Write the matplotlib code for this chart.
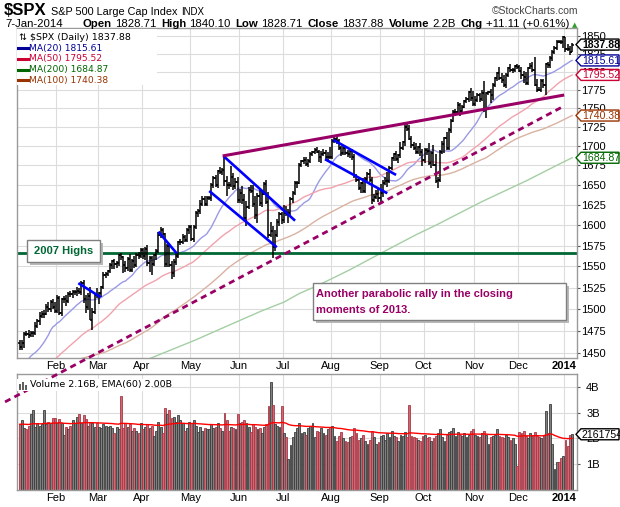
import numpy as np
import pandas as pd
import matplotlib
matplotlib.use("Agg")
import matplotlib.pyplot as plt
from matplotlib.patches import Polygon, Rectangle
from matplotlib.lines import Line2D
from matplotlib.collections import LineCollection
from matplotlib.ticker import FixedLocator, NullLocator
from matplotlib.transforms import IdentityTransform

plt.rcParams["font.family"] = ["Liberation Sans", "DejaVu Sans"]

# trading days per month, 8-Jan-2013 .. 7-Jan-2014
month_days = [17, 19, 20, 22, 22, 20, 22, 22, 20, 23, 20, 21, 4]
month_names = ["Feb", "Mar", "Apr", "May", "Jun", "Jul", "Aug", "Sep", "Oct", "Nov", "Dec", "2014"]

# closes before the window (Sep 2012 .. 7-Jan-2013), only used for the moving averages
close_prior = [
    1404.94, 1403.44, 1432.12, 1437.92, 1429.08, 1433.56, 1436.56, 1459.99, 1465.77, 1461.19,
    1459.32, 1461.05, 1460.26, 1460.15, 1456.89, 1441.59, 1433.32, 1447.15, 1440.67,
    1444.49, 1445.75, 1450.99, 1461.40, 1460.93, 1455.88, 1441.48, 1432.56, 1432.84, 1428.59,
    1440.13, 1454.92, 1460.91, 1457.34, 1433.19, 1433.81, 1413.11, 1408.75, 1412.97, 1411.94, 1412.16,
    1427.59, 1414.20, 1417.26, 1428.39, 1394.53, 1377.51, 1379.85, 1380.03, 1374.53, 1355.49,
    1353.33, 1359.88, 1386.89, 1387.81, 1391.03, 1409.15, 1406.29, 1398.94, 1409.93, 1415.95, 1416.18,
    1409.46, 1407.05, 1409.28, 1413.94, 1418.07, 1418.55, 1427.84, 1428.48, 1419.45, 1413.58,
    1430.36, 1446.79, 1435.81, 1443.69, 1430.15, 1426.66, 1419.83, 1418.10, 1402.43, 1426.19,
    1462.42, 1459.37, 1466.47, 1461.89,
]

close = [
    # Jan
    1457.15, 1461.02, 1472.12, 1472.05, 1470.68, 1472.34, 1472.63, 1480.94, 1485.98, 1492.56,
    1494.81, 1494.82, 1502.96, 1500.18, 1507.84, 1501.96, 1498.11,
    # Feb
    1513.17, 1495.71, 1511.29, 1512.12, 1509.39, 1517.93, 1517.01, 1519.43, 1520.33, 1521.38,
    1519.79, 1530.94, 1511.95, 1502.42, 1515.60, 1487.85, 1496.94, 1515.99, 1514.68,
    # Mar
    1518.20, 1525.20, 1539.79, 1541.46, 1544.26, 1551.18, 1556.22, 1552.48, 1554.52, 1563.23,
    1560.70, 1552.10, 1548.34, 1558.71, 1545.80, 1556.89, 1551.69, 1563.77, 1562.85, 1569.19,
    # Apr
    1562.17, 1570.25, 1553.69, 1559.98, 1553.28, 1563.07, 1568.61, 1587.73, 1593.37, 1588.85,
    1552.36, 1574.57, 1552.01, 1541.61, 1555.25, 1562.50, 1578.78, 1578.79, 1585.16, 1582.24,
    1593.61, 1597.57,
    # May
    1582.70, 1597.59, 1614.42, 1617.50, 1625.96, 1632.69, 1626.67, 1633.70, 1633.77, 1650.34,
    1658.78, 1650.47, 1667.47, 1666.29, 1669.16, 1655.35, 1650.51, 1649.60, 1660.06, 1648.36,
    1654.41, 1630.74,
    # Jun
    1640.42, 1631.38, 1608.90, 1622.56, 1643.38, 1642.81, 1626.13, 1612.52, 1636.36, 1626.73,
    1639.04, 1651.81, 1628.93, 1588.19, 1592.43, 1573.09, 1588.03, 1603.26, 1613.20, 1606.28,
    # Jul
    1614.96, 1614.08, 1615.41, 1631.89, 1640.46, 1652.32, 1652.62, 1675.02, 1680.19, 1682.50,
    1676.26, 1680.91, 1689.37, 1692.09, 1695.53, 1692.39, 1685.94, 1690.25, 1691.65, 1685.33,
    1685.96, 1685.73,
    # Aug
    1706.87, 1709.67, 1707.14, 1697.37, 1690.91, 1697.48, 1691.42, 1689.47, 1694.16, 1685.39,
    1661.32, 1655.83, 1646.06, 1652.35, 1642.80, 1656.96, 1663.50, 1656.78, 1630.48, 1634.96,
    1638.17, 1632.97,
    # Sep
    1639.77, 1653.08, 1655.08, 1655.17, 1671.71, 1683.99, 1689.13, 1683.42, 1687.99, 1697.60,
    1704.76, 1725.52, 1722.34, 1709.91, 1701.84, 1697.42, 1692.77, 1698.67, 1691.75, 1681.55,
    # Oct
    1695.00, 1693.87, 1678.66, 1690.50, 1676.12, 1655.45, 1656.40, 1692.56, 1703.20, 1710.14,
    1698.06, 1721.54, 1733.15, 1744.50, 1744.66, 1754.67, 1746.38, 1752.07, 1759.77, 1762.11,
    1771.95, 1763.31, 1756.54,
    # Nov
    1761.64, 1767.93, 1762.97, 1770.49, 1747.15, 1770.61, 1771.89, 1767.69, 1782.00, 1790.62,
    1798.18, 1791.53, 1787.87, 1781.37, 1795.85, 1804.76, 1802.48, 1802.75, 1807.23, 1805.81,
    # Dec
    1800.90, 1795.15, 1792.81, 1785.03, 1805.09, 1808.37, 1802.62, 1782.22, 1775.50, 1775.32,
    1786.54, 1781.00, 1810.65, 1809.60, 1818.32, 1827.99, 1833.32, 1842.02, 1841.40, 1841.07,
    1848.36,
    # Jan 2014
    1831.98, 1831.37, 1826.77, 1837.88,
]

# intraday extension above / below the bar body (points, estimated)
hi_ext = [
    3, 4, 2, 3, 4, 3, 2, 4, 3, 4, 3, 4, 3, 5, 3, 4, 6,
    3, 2, 2, 3, 4, 2, 3, 3, 2, 4, 3, 2, 3, 4, 3, 10, 4, 2, 9,
    2, 2, 3, 2, 2, 3, 2, 3, 2, 2, 3, 2, 4, 2, 6, 2, 5, 2, 3, 3,
    3, 3, 6, 2, 2, 2, 2, 4, 4, 3, 2, 2, 4, 4, 3, 3, 2, 4, 4, 3, 3, 3,
    3, 3, 3, 2, 5, 3, 4, 2, 2, 2, 2, 4, 2, 6, 3, 18, 6, 3, 14, 5, 4, 6,
    5, 8, 7, 7, 4, 6, 7, 10, 4, 10, 4, 2, 4, 12, 11, 7, 6, 4, 3, 3,
    10, 8, 5, 3, 2, 3, 3, 3, 2, 3, 3, 2, 3, 2, 2, 3, 3, 4, 4, 3, 7, 13,
    3, 2, 2, 2, 3, 4, 3, 3, 2, 2, 4, 3, 4, 2, 7, 3, 3, 7, 3, 4, 6, 8,
    11, 3, 5, 11, 2, 2, 2, 5, 2, 8, 2, 4, 4, 6, 3, 4, 6, 2, 5, 4,
    2, 3, 10, 3, 11, 14, 4, 3, 3, 2, 8, 2, 3, 3, 5, 4, 3, 3, 2, 3, 2, 6, 10,
    5, 3, 3, 4, 16, 2, 2, 4, 2, 2, 2, 8, 6, 8, 2, 2, 6, 3, 2, 3,
    4, 5, 6, 7, 2, 3, 5, 18, 7, 4, 3, 4, 2, 3, 3, 2, 2, 2, 2, 3, 1,
    0, 6, 5, 2,
]
lo_ext = [
    4, 3, 5, 3, 4, 3, 4, 2, 3, 4, 3, 5, 2, 3, 4, 2, 3,
    3, 2, 4, 4, 6, 2, 3, 4, 3, 5, 2, 3, 5, 7, 3, 0, 12, 3, 2,
    9, 4, 2, 3, 3, 2, 4, 6, 4, 4, 3, 10, 5, 4, 2, 3, 4, 2, 4, 3,
    3, 4, 3, 10, 14, 3, 5, 2, 3, 5, 3, 3, 3, 6, 4, 4, 3, 3, 2, 3, 3, 4,
    2, 4, 3, 4, 4, 3, 3, 3, 3, 4, 4, 3, 4, 2, 3, 7, 15, 5, 2, 5, 3, 4,
    4, 5, 4, 10, 3, 3, 4, 5, 10, 3, 4, 2, 3, 4, 3, 13, 5, 3, 4, 5,
    4, 3, 11, 3, 4, 3, 6, 2, 2, 3, 2, 3, 3, 2, 3, 2, 6, 8, 3, 3, 3, 2,
    2, 3, 4, 3, 4, 2, 3, 4, 5, 4, 3, 2, 3, 6, 3, 3, 2, 3, 4, 2, 3, 5,
    5, 5, 3, 8, 3, 3, 3, 3, 5, 3, 3, 4, 3, 2, 4, 3, 3, 3, 5, 7,
    4, 5, 3, 7, 2, 3, 9, 3, 3, 12, 3, 3, 4, 2, 5, 3, 7, 3, 2, 3, 3, 3, 4,
    3, 3, 4, 3, 2, 10, 3, 10, 6, 3, 3, 3, 3, 2, 4, 3, 3, 4, 3, 2,
    2, 5, 8, 4, 3, 2, 3, 2, 4, 2, 3, 3, 13, 4, 4, 3, 3, 3, 2, 3, 8,
    4, 2, 3, 0,
]

# daily volume, billions
volume = [
    2.55, 2.70, 2.40, 2.35, 2.50, 2.95, 3.10, 2.45, 2.60, 2.50, 2.55, 3.10, 2.55, 2.65, 2.60, 2.80, 2.80,
    2.60, 2.75, 2.60, 2.15, 2.45, 2.35, 2.50, 2.70, 2.60, 2.85, 2.95, 2.60, 2.90, 2.75, 2.50, 2.65, 2.60, 2.45, 2.60,
    2.45, 2.40, 2.55, 2.50, 2.45, 2.50, 2.40, 2.20, 2.45, 2.35, 3.65, 2.40, 2.60, 2.45, 2.55, 2.30, 2.40, 2.30, 2.20, 2.60,
    2.35, 2.45, 2.55, 2.40, 2.50, 2.10, 2.30, 2.65, 2.45, 2.20, 3.20, 2.95, 3.10, 2.80, 2.85, 2.65, 2.90, 2.70, 2.60, 2.30, 2.40, 2.65,
    2.60, 2.70, 2.50, 2.25, 2.45, 2.30, 2.40, 2.35, 2.35, 2.55, 2.40, 2.45, 2.60, 2.40, 2.30, 3.00, 2.70, 2.30, 2.45, 2.40, 2.35, 2.95,
    2.60, 2.65, 2.70, 2.60, 2.45, 2.25, 2.55, 2.45, 2.35, 2.40, 2.20, 2.45, 2.55, 3.25, 4.20, 3.30, 2.55, 2.50, 2.45, 3.25,
    2.20, 2.05, 1.20, 1.75, 2.05, 2.25, 2.40, 2.60, 2.20, 2.25, 2.15, 2.40, 2.50, 2.60, 2.05, 2.30, 2.25, 2.40, 2.20, 2.15, 2.35, 2.45,
    2.50, 2.10, 1.90, 2.10, 2.25, 2.00, 1.90, 1.85, 2.05, 2.10, 2.40, 2.20, 1.95, 2.00, 2.15, 1.90, 1.80, 1.95, 2.30, 2.05, 1.80, 1.85,
    2.10, 2.15, 1.95, 2.20, 2.05, 2.30, 2.10, 2.05, 1.90, 2.15, 2.10, 2.25, 2.05, 3.30, 2.10, 2.05, 2.00, 1.95, 1.90, 2.10,
    2.15, 2.00, 2.05, 1.90, 2.00, 2.10, 2.20, 2.35, 2.05, 1.90, 2.15, 2.25, 2.30, 2.40, 2.10, 2.25, 2.15, 2.10, 2.20, 2.05, 2.15, 2.30, 2.35,
    2.15, 2.10, 2.05, 2.20, 2.30, 2.15, 1.80, 2.05, 2.10, 2.15, 2.35, 2.10, 2.05, 2.00, 2.15, 2.05, 1.95, 2.00, 1.80, 0.95,
    2.25, 2.20, 2.30, 2.10, 2.00, 2.20, 2.15, 2.25, 2.10, 2.05, 2.00, 2.15, 3.05, 2.20, 3.35, 1.80, 0.80, 1.10, 1.10, 1.25, 1.30,
    1.95, 1.70, 2.15, 2.161754,
]

# 200-day MA (trading-day index, value)
ma200_idx = [55, 62, 70, 80, 90, 100, 110, 120, 127, 135, 143, 150, 160, 170, 180, 190, 200, 210, 220, 230, 237, 244, 251]
ma200_val = [1440, 1447, 1455, 1465, 1476, 1487, 1498, 1508, 1518, 1527, 1537, 1546, 1560, 1574, 1588, 1601,
             1615, 1629, 1642, 1655, 1665, 1675, 1684.87]

# annotation lines: (index, price) endpoints
flag_lines = [
    [(26.6, 1530.2), (36.8, 1513.7)],
    [(63.0, 1591.9), (71.3, 1565.6)],
    [(92.5, 1687.2), (125.1, 1605.4)],
    [(86.1, 1642.4), (116.8, 1572.9)],
    [(142.5, 1708.1), (171.0, 1662.8)],
    [(138.7, 1683.0), (167.0, 1639.5)],
]
upper_trend = [(92.2, 1687.2), (247.4, 1768.0)]
lower_trend = [(-6.7, 1396.8), (246.8, 1752.3)]
high_2007 = 1566

legend_vals = {"MA(20)": 1815.61, "MA(50)": 1795.52, "MA(200)": 1684.87, "MA(100)": 1740.38}

assert len(close) == sum(month_days) == len(volume) == len(hi_ext) == len(lo_ext)

n = len(close)
xs = np.arange(n)
full = pd.Series(close_prior + close)
n0 = len(close_prior)
ma20 = full.rolling(20).mean().values[n0:]
ma50 = full.rolling(50).mean().values[n0:]
ma100 = full.rolling(100).mean().values[n0:]
opn = np.array([close_prior[-1]] + close[:-1])
cls = np.array(close)
hi = np.maximum(opn, cls) + np.array(hi_ext)
lo = np.minimum(opn, cls) - np.array(lo_ext)
down = cls < opn
vol = np.array(volume)
ema60 = pd.Series(vol).ewm(span=60, adjust=False).mean().values
month_edges = np.cumsum(month_days)[:-1] - 0.5

W, H = 620, 507
fig = plt.figure(figsize=(W / 100, H / 100), dpi=100)
ID = IdentityTransform()
renderer = fig.canvas.get_renderer()


def px_rect(l, t, r, b):
    return [l / W, 1 - b / H, (r - l) / W, (b - t) / H]


ax = fig.add_axes(px_rect(16.5, 28, 576.5, 358))
axv = fig.add_axes(px_rect(16.5, 374, 576.5, 490))
ax.set_zorder(2)
axv.set_zorder(1)

grid_c = "#dcdcdc"
frame_c = "#9a9a9a"
for a in (ax, axv):
    a.set_xlim(-1.5, 253.0)
    for s in a.spines.values():
        s.set_color(frame_c)
        s.set_linewidth(1.0)
    a.set_xticks(month_edges)
    a.set_xticklabels(month_names, fontsize=8)
    a.get_xticklabels()[-1].set_fontweight("bold")
    a.tick_params(axis="x", length=0, pad=2.5)
    a.yaxis.tick_right()
    a.tick_params(axis="y", length=2, colors="#555555", labelcolor="black", labelsize=8, pad=1.5)
    a.grid(True, color=grid_c, lw=0.8)
    a.set_axisbelow(True)

# price panel
ax.set_yscale("log")
ax.set_ylim(1444.7, 1861.4)
ax.yaxis.set_major_locator(FixedLocator(np.arange(1450, 1851, 25)))
ax.yaxis.set_minor_locator(NullLocator())
ax.set_yticklabels([str(v) for v in range(1450, 1851, 25)])

ax.plot(xs, ma20, color="#9a9ae6", lw=1)
ax.plot(xs, ma50, color="#f2a2ad", lw=1)
ax.plot(xs, ma100, color="#d9b2a2", lw=1)
ax.plot(ma200_idx, ma200_val, color="#a3cfa3", lw=1)

ax.axhline(high_2007, color="#006633", lw=2.0)

segs = [[(i, lo[i]), (i, hi[i])] for i in range(n)]
segs += [[(i - 0.75, opn[i]), (i, opn[i])] for i in range(n)]
segs += [[(i, cls[i]), (i + 0.75, cls[i])] for i in range(n)]
ax.add_collection(LineCollection(segs, colors="black", linewidths=1.1, zorder=3))

for (x0, y0), (x1, y1) in flag_lines:
    ax.plot([x0, x1], [y0, y1], color="#0000ff", lw=1.9, solid_capstyle="butt", zorder=4)
ax.plot(*zip(*upper_trend), color="#990066", lw=2.2, solid_capstyle="butt", zorder=4)
ax.plot(*zip(*lower_trend), color="#990066", lw=2.0, linestyle=(0, (2.2, 1.6)),
        clip_on=False, zorder=4)

# legend box
fig.add_artist(Rectangle((17, H - 85), 140, 56.5, transform=ID, facecolor="white", edgecolor="none", zorder=3))
fig.text(19, H - 37, "\u21c5 $SPX (Daily) 1837.88", transform=ID, fontsize=6.8, family="DejaVu Sans",
         va="center", zorder=6)
leg = [("MA(20)", "#000099"), ("MA(50)", "#cc0033"), ("MA(200)", "#006600"), ("MA(100)", "#993300")]
for k, (name, c) in enumerate(leg):
    yy = H - (48 + 10.8 * k)
    fig.add_artist(Line2D([18, 28], [yy, yy], transform=ID, color=c, lw=2.2, zorder=6))
    fig.text(29, yy, f"{name} {legend_vals[name]:.2f}", transform=ID, fontsize=6.6,
             family="DejaVu Sans", color=c, va="center", zorder=6)

# volume panel
colors = np.where(down, "#d26672", "#808080")
edges = np.where(down, "#a83846", "#3c3c3c")
axv.bar(xs, vol, width=0.85, color=colors, edgecolor=edges, linewidth=0.6, zorder=2)
axv.plot(xs, ema60, color="#ff0000", lw=1.0, zorder=3)
axv.set_ylim(0, 4.5)
axv.set_yticks([1, 2, 3, 4])
axv.set_yticklabels(["1B", "2B", "3B", "4B"])
axv.tick_params(axis="y", pad=5)

fig.add_artist(Rectangle((17, H - 391), 135, 12, transform=ID, facecolor="white", edgecolor="none", zorder=3))
for k, hh in enumerate([6, 8, 5]):
    fig.add_artist(Rectangle((19 + 3 * k, H - 390), 2, hh, transform=ID, facecolor="#606060",
                             edgecolor="none", zorder=6))
fig.text(30, H - 385, f"Volume {vol[-1]:.2f}B, EMA(60) {ema60[-1]:.2f}B", transform=ID,
         fontsize=6.8, family="DejaVu Sans", va="center", zorder=6)


def tag(axis, value, label, color, bold=False):
    yd = axis.transData.transform((0, value))[1]
    x0, h, w = 576, 5.5, 43
    pts = [(x0, yd), (x0 + 5, yd + h), (x0 + w, yd + h), (x0 + w, yd - h), (x0 + 5, yd - h)]
    fig.add_artist(Polygon(pts, closed=True, transform=ID, facecolor="white", edgecolor=color,
                           lw=1.0, zorder=7))
    fig.text(x0 + 6, yd - 0.5, label, transform=ID, fontsize=7.6, color=color, va="center",
             fontweight="bold" if bold else "normal", zorder=8)


tag(ax, cls[-1], f"{cls[-1]:.2f}", "black", bold=True)
for name, c in leg:
    tag(ax, legend_vals[name], f"{legend_vals[name]:.2f}", c)
tag(axv, vol[-1], "2161754", "black")


# text boxes
def shadow_box(l, t, r, b):
    fig.add_artist(Rectangle((l + 3, H - b - 3), r - l, b - t, transform=ID, facecolor="#b8b8b8",
                             edgecolor="none", zorder=6))
    fig.add_artist(Rectangle((l, H - b), r - l, b - t, transform=ID, facecolor="white",
                             edgecolor="#808080", lw=1.0, zorder=6))


shadow_box(27, 240, 100, 262)
fig.text(63.5, H - 251.5, "2007 Highs", transform=ID, fontsize=8, fontweight="bold", color="#006633",
         ha="center", va="center", zorder=7)
shadow_box(313, 283, 566, 320)
fig.text(316, H - 294, "Another parabolic rally in the closing", transform=ID, fontsize=8,
         fontweight="bold", color="#990066", va="center", zorder=7)
fig.text(316, H - 310, "moments of 2013.", transform=ID, fontsize=8, fontweight="bold",
         color="#990066", va="center", zorder=7)


# header
def text_run(x, y, parts, **kw):
    for s, size, bold, gap in parts:
        t = fig.text(x, y, s, transform=ID, fontsize=size, fontweight="bold" if bold else "normal",
                     va="baseline", **kw)
        x += t.get_window_extent(renderer).width + gap
    return x


text_run(4, H - 15, [("$SPX", 12, True, 4), ("S&P 500 Large Cap Index", 7.8, False, 4),
                     ("INDX", 7, False, 0)])
fig.text(578, H - 14, "\u00a9StockCharts.com", transform=ID, fontsize=7.5, color="#444444",
         ha="right", va="baseline")

parts = [("7-Jan-2014", 8.2, False, 20), ("Open", 8.2, True, 3), ("1828.71", 8.2, False, 5),
         ("High", 8.2, True, 3), ("1840.10", 8.2, False, 5), ("Low", 8.2, True, 3),
         ("1828.71", 8.2, False, 5), ("Close", 8.2, True, 3), ("1837.88", 8.2, False, 5),
         ("Volume", 8.2, True, 3), ("2.2B", 8.2, False, 5), ("Chg", 8.2, True, 3),
         ("+11.11 (+0.61%)", 8.2, False, 3)]
x = text_run(5, H - 27, parts)
fig.text(x, H - 27, "\u25b2", transform=ID, fontsize=5, color="#2e9e2e", va="baseline",
         family="DejaVu Sans")

fig.savefig("out.png", dpi=100)
